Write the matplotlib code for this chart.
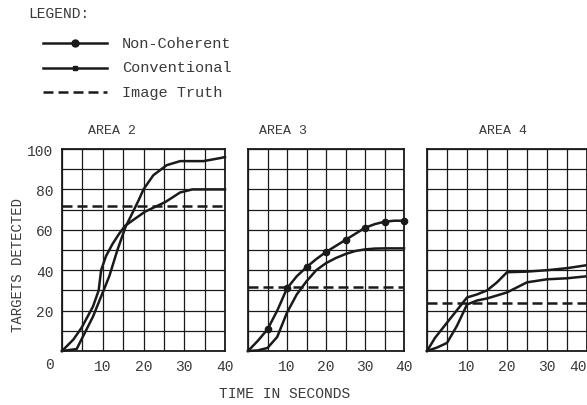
import matplotlib
matplotlib.use("Agg")
import matplotlib.pyplot as plt
import numpy as np

# ---- data ----
areas = ["AREA 2", "AREA 3", "AREA 4"]

# Area 2
a2_nc_t = [0, 3.6, 5.2, 7.6, 9.6, 11.6, 13.6, 15.6, 17.2, 18.8, 20, 22.4, 25.7, 29, 34.7, 38.8, 40]
a2_nc_v = [0, 1, 7.4, 17, 27, 37, 50, 61.5, 68, 74.6, 80, 87, 92, 94, 94, 95.5, 96]
a2_cv_t = [0, 2.8, 4.8, 7.6, 9, 9.6, 10.8, 12.4, 14, 15.5, 18, 20.4, 22.8, 25.4, 29, 32, 40]
a2_cv_v = [0, 5.7, 11.5, 22, 30, 40, 47, 53, 58, 62, 65.6, 69, 71.3, 73.8, 78.5, 80, 80]

# Area 3
a3_nc_t = [0, 2.5, 5, 7.5, 10, 12.5, 15, 17.5, 20, 22.5, 25, 27.5, 30, 32.5, 35, 37.5, 40]
a3_nc_v = [0, 5, 10.7, 20, 31, 37, 41.5, 45.5, 49, 52, 55, 58, 61, 62.8, 64, 64.5, 64.5]
a3_cv_t = [0, 2.5, 5, 7.5, 10, 12.5, 15, 17.5, 20, 22.5, 25, 27.5, 30, 32.5, 35, 40]
a3_cv_v = [0, 0.3, 1.5, 7, 19, 28, 34.5, 40, 43.5, 46, 48, 49.5, 50.3, 50.7, 50.8, 50.8]

# Area 4
a4_nc_t = [0, 2, 4.6, 7, 10, 12.5, 15, 17.5, 20, 25, 30, 35, 40]
a4_nc_v = [0, 6.5, 13, 19, 26.5, 28, 30, 34, 39, 39.3, 40, 41, 42.5]
a4_cv_t = [0, 2.5, 5, 7.5, 10, 12.5, 15, 20, 25, 30, 35, 40]
a4_cv_v = [0, 1.7, 4, 12.5, 23, 25, 26, 29, 34, 35.5, 36, 37]

truth = [72, 31.7, 24]

x_ticks = [10, 20, 30, 40]
y_ticks = [20, 40, 60, 80, 100]

W, H = 587, 406
plt.rcParams['font.family'] = ['Liberation Mono', 'DejaVu Sans Mono']
ink = '#1a1a1a'
txt = '#3a3a3a'

fig = plt.figure(figsize=(W / 100, H / 100), dpi=100)
fig.patch.set_facecolor('white')


def px(x, y):
    return x / W, 1 - y / H


# axes boxes in pixels: left, right
boxes = [(62, 225), (248, 404), (427, 587)]
top, bottom = 150, 352

curves = [
    ((a2_nc_t, a2_nc_v, False), (a2_cv_t, a2_cv_v)),
    ((a3_nc_t, a3_nc_v, True), (a3_cv_t, a3_cv_v)),
    ((a4_nc_t, a4_nc_v, False), (a4_cv_t, a4_cv_v)),
]

title_x = [112, 283, 503]

for i, ((l, r), (nc, cv)) in enumerate(zip(boxes, curves)):
    ax = fig.add_axes([l / W, (H - bottom) / H, (r - l) / W, (bottom - top) / H])
    ax.set_xlim(0, 40)
    ax.set_ylim(0, 100)
    ax.set_xticks(np.arange(0, 41, 5))
    ax.set_yticks(np.arange(0, 101, 10))
    ax.grid(True, color=ink, lw=0.9)
    ax.set_axisbelow(True)
    for s in ax.spines.values():
        s.set_color(ink)
        s.set_linewidth(1.3)
    ax.tick_params(length=0, labelsize=10.5, labelcolor=txt, pad=6)
    ax.set_xticklabels(['' if t not in x_ticks else str(t) for t in range(0, 41, 5)])
    if i == 0:
        ax.set_yticklabels(['' if v not in y_ticks else str(v) for v in range(0, 101, 10)])
    else:
        ax.set_yticklabels([])
    if i == 2:
        # last label sits on the page edge
        ax.get_xticklabels()[-1].set_ha('right')

    t, v, mk = nc
    ax.plot(t, v, color=ink, lw=1.8, marker='o' if mk else None, ms=4.5,
            markevery=slice(2, None, 2), clip_on=False, zorder=3)
    ax.plot(cv[0], cv[1], color=ink, lw=1.8, clip_on=False, zorder=3)
    ax.axhline(truth[i], color=ink, lw=1.8, ls=(0, (4, 2)), zorder=3)

    fig.text(*px(title_x[i], 131), areas[i], fontsize=9.5, color=txt,
             ha='center', va='center')

fig.text(*px(50, 365), '0', fontsize=10.5, color=txt, ha='center', va='center')
fig.text(*px(18, 265), 'TARGETS DETECTED', fontsize=10, color=txt,
         rotation=90, ha='center', va='center')
fig.text(*px(285, 394), 'TIME IN SECONDS', fontsize=10.5, color=txt,
         ha='center', va='center')

# legend block
fig.text(*px(28, 14), 'LEGEND:', fontsize=10.5, color=txt, ha='left', va='center')
leg_items = [('Non-Coherent', '-', 'o'), ('Conventional', '-', 's'), ('Image Truth', (0, (4, 2)), None)]
for k, (name, ls, mk) in enumerate(leg_items):
    yy = 44 + k * 24.5
    x0, y0 = px(43, yy)
    x1, _ = px(107, yy)
    fig.add_artist(plt.Line2D([x0, x1], [y0, y0], color=ink, lw=1.8, ls=ls,
                              transform=fig.transFigure))
    if mk:
        fig.add_artist(plt.Line2D([(x0 + x1) / 2], [y0], color=ink, marker=mk,
                                  ms=5 if mk == 'o' else 3.5,
                                  transform=fig.transFigure))
    fig.text(*px(122, yy), name, fontsize=11, color=txt, ha='left', va='center')

fig.savefig('out.png', dpi=100, facecolor='white')
